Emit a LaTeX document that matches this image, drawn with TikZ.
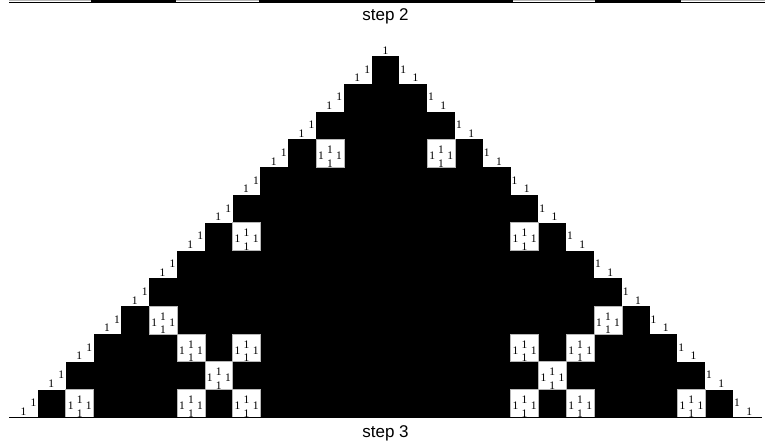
\documentclass[tikz,border=0pt]{standalone}
\usepackage{fontspec}
\setmainfont{Liberation Serif}
\newfontfamily\captfont{Liberation Sans}
\definecolor{holeline}{gray}{0.72}
\tikzset{
  one/.style={font=\fontsize{11.5}{12}\selectfont,inner sep=0pt},
  capt/.style={font=\captfont\fontsize{17}{18}\selectfont,inner sep=0pt},
  hole/.style={fill=white,draw=holeline,line width=0.6pt},
  baseln/.style={black,line width=1.4pt},
}
\begin{document}
\begin{tikzpicture}[x=27.8pt,y=27.8pt]
  \useasboundingbox (-13.867,2.014) rectangle (13.651,-13.957);
  % bottom row of step 2
  \draw[holeline,line width=0.6pt] (-13.54,1.995) -- (13.7,1.995);
  \fill[black] (-10.58,2.03) rectangle (-7.52,1.93);
  \fill[black] (-4.55,2.03) rectangle (4.6,1.93);
  \fill[black] (7.55,2.03) rectangle (10.62,1.93);
  \draw[black,line width=0.9pt] (-13.54,1.93) -- (13.7,1.93);
  \node[capt] (s2) at (0,1.432) {step 2};
  % step 3
  \foreach \i in {0,...,12}
    \fill[black] ({-\i-0.5},-\i) rectangle ({\i+0.5},{-\i-1});
  \foreach \i/\j in {3/2,6/5,9/8,10/5,10/7,11/6,12/5,12/7,12/11}
    \foreach \s in {-1,1} {
      \draw[hole] ({\s*\j-0.5},-\i) rectangle ++(1,-1);
      \node[one] (h\i\s\j l) at ({\s*\j-0.32},{-\i-0.59}) {1};
      \node[one] (h\i\s\j t) at ({\s*\j},{-\i-0.37}) {1};
      \node[one] (h\i\s\j r) at ({\s*\j+0.33},{-\i-0.59}) {1};
      \node[one] (h\i\s\j b) at ({\s*\j},{-\i-0.86}) {1};
    }
  \foreach \i in {0,...,12} {
    \node[one] (el\i a) at ({-\i-0.66},{-\i-0.48}) {1};
    \node[one] (el\i b) at ({-\i-1.02},{-\i-0.79}) {1};
    \node[one] (er\i a) at ({\i+0.64},{-\i-0.48}) {1};
    \node[one] (er\i b) at ({\i+1.08},{-\i-0.79}) {1};
  }
  \node[one] (apex) at (0,0.18) {1};
  \draw[baseln] (-13.54,-13) -- (13.54,-13);
  \node[capt] (s3) at (0,-13.59) {step 3};
\end{tikzpicture}
\end{document}
